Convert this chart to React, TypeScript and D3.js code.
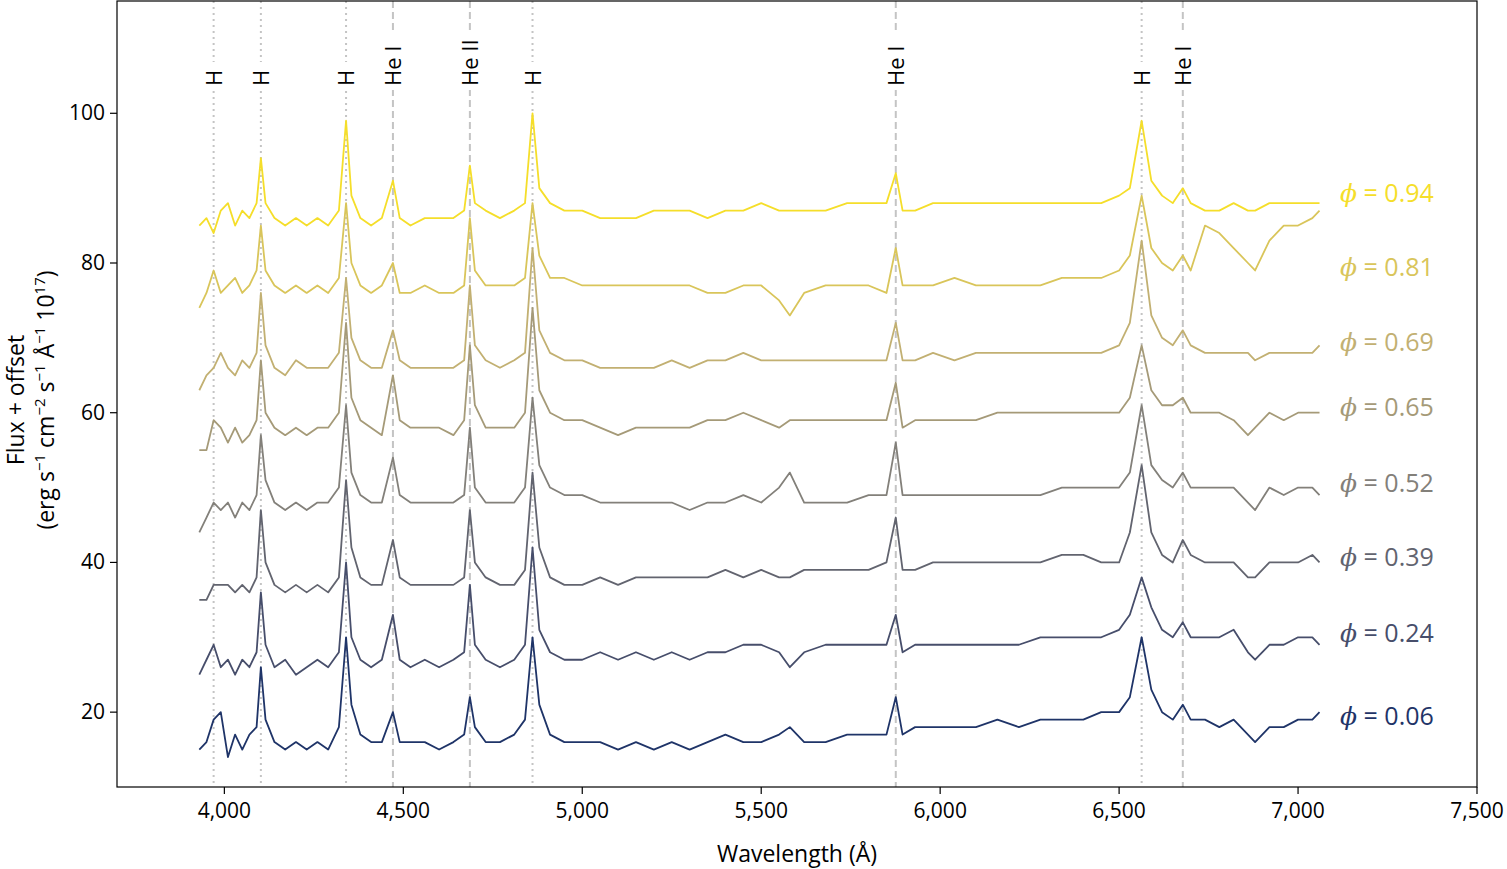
import * as d3 from "d3";

const wavelengths = [3930, 3950, 3970, 3990, 4010, 4030, 4050, 4070, 4090, 4102, 4115, 4140, 4170, 4200, 4230, 4260, 4290, 4320, 4340, 4355, 4380, 4410, 4440, 4471, 4490, 4520, 4560, 4600, 4640, 4670, 4686, 4700, 4730, 4770, 4810, 4840, 4861, 4880, 4910, 4950, 5000, 5050, 5100, 5150, 5200, 5250, 5300, 5350, 5400, 5450, 5500, 5550, 5580, 5620, 5680, 5740, 5800, 5850, 5876, 5895, 5930, 5980, 6040, 6100, 6160, 6220, 6280, 6340, 6400, 6450, 6500, 6530, 6563, 6590, 6620, 6650, 6678, 6700, 6740, 6780, 6820, 6860, 6880, 6920, 6960, 7000, 7040, 7060];

const phases = ["0.06", "0.24", "0.39", "0.52", "0.65", "0.69", "0.81", "0.94"];
const colors = ["#1f3468", "#474e6b", "#62646f", "#83807a", "#a59a78", "#c2b072", "#d9c55a", "#f5de2a"];
const labelY = [19.5, 30.6, 40.7, 50.6, 60.8, 69.4, 79.5, 89.3];

const flux006 = [15, 16, 19, 20, 14, 17, 15, 17, 18, 26, 19, 16, 15, 16, 15, 16, 15, 18, 30, 21, 17, 16, 16, 20, 16, 16, 16, 15, 16, 17, 22, 18, 16, 16, 17, 19, 30, 21, 17, 16, 16, 16, 15, 16, 15, 16, 15, 16, 17, 16, 16, 17, 18, 16, 16, 17, 17, 17, 22, 17, 18, 18, 18, 18, 19, 18, 19, 19, 19, 20, 20, 22, 30, 23, 20, 19, 21, 19, 19, 18, 19, 17, 16, 18, 18, 19, 19, 20];
const flux024 = [25, 27, 29, 26, 27, 25, 27, 26, 28, 36, 29, 26, 27, 25, 26, 27, 26, 28, 40, 30, 27, 26, 27, 33, 27, 26, 27, 26, 27, 28, 37, 29, 27, 26, 27, 29, 42, 31, 28, 27, 27, 28, 27, 28, 27, 28, 27, 28, 28, 29, 29, 28, 26, 28, 29, 29, 29, 29, 33, 28, 29, 29, 29, 29, 29, 29, 30, 30, 30, 30, 31, 33, 38, 34, 31, 30, 32, 30, 30, 30, 31, 28, 27, 29, 29, 30, 30, 29];
const flux039 = [35, 35, 37, 37, 37, 36, 37, 36, 38, 47, 40, 37, 36, 37, 36, 37, 36, 38, 51, 42, 38, 37, 37, 43, 38, 37, 37, 37, 37, 38, 47, 40, 38, 37, 37, 39, 52, 42, 38, 37, 37, 38, 37, 38, 38, 38, 38, 38, 39, 38, 39, 38, 38, 39, 39, 39, 39, 40, 46, 39, 39, 40, 40, 40, 40, 40, 40, 41, 41, 40, 40, 44, 53, 44, 41, 40, 43, 41, 40, 40, 40, 38, 38, 40, 40, 40, 41, 40];
const flux052 = [44, 46, 48, 47, 48, 46, 48, 47, 49, 57, 51, 48, 47, 48, 47, 48, 48, 50, 61, 52, 49, 48, 48, 54, 49, 48, 48, 48, 48, 49, 58, 50, 48, 48, 48, 50, 62, 53, 50, 49, 49, 48, 48, 48, 48, 48, 47, 48, 48, 49, 48, 50, 52, 48, 48, 48, 49, 49, 56, 49, 49, 49, 49, 49, 49, 49, 49, 50, 50, 50, 50, 52, 61, 53, 51, 50, 52, 50, 50, 50, 50, 48, 47, 50, 49, 50, 50, 49];
const flux065 = [55, 55, 59, 58, 56, 58, 56, 57, 59, 67, 60, 58, 57, 58, 57, 58, 58, 60, 72, 62, 59, 58, 57, 65, 59, 58, 58, 58, 57, 59, 69, 61, 58, 58, 58, 60, 74, 63, 60, 59, 59, 58, 57, 58, 58, 58, 58, 59, 59, 60, 59, 58, 59, 59, 59, 59, 59, 59, 64, 58, 59, 59, 59, 59, 60, 60, 60, 60, 60, 60, 60, 62, 69, 63, 61, 61, 62, 60, 60, 60, 59, 57, 58, 60, 59, 60, 60, 60];
const flux069 = [63, 65, 66, 68, 66, 65, 67, 66, 68, 76, 69, 66, 65, 67, 66, 66, 66, 68, 78, 70, 67, 66, 66, 71, 67, 66, 66, 66, 66, 67, 77, 69, 67, 66, 67, 68, 82, 71, 68, 67, 67, 66, 66, 66, 66, 67, 66, 67, 67, 68, 67, 67, 67, 67, 67, 67, 67, 67, 72, 67, 67, 68, 67, 68, 68, 68, 68, 68, 68, 68, 69, 72, 83, 73, 70, 69, 71, 69, 68, 68, 68, 68, 67, 68, 68, 68, 68, 69];
const flux081 = [74, 76, 79, 76, 77, 78, 76, 77, 79, 85, 79, 77, 76, 77, 76, 77, 76, 78, 88, 80, 77, 76, 77, 80, 76, 76, 77, 76, 76, 77, 86, 79, 77, 77, 77, 78, 88, 81, 78, 78, 77, 77, 77, 77, 77, 77, 77, 76, 76, 77, 77, 75, 73, 76, 77, 77, 77, 76, 82, 77, 77, 77, 78, 77, 77, 77, 77, 78, 78, 78, 79, 81, 89, 82, 80, 79, 81, 79, 85, 84, 82, 80, 79, 83, 85, 85, 86, 87];
const flux094 = [85, 86, 84, 87, 88, 85, 87, 86, 88, 94, 88, 86, 85, 86, 85, 86, 85, 87, 99, 89, 86, 85, 86, 91, 86, 85, 86, 86, 86, 87, 93, 88, 87, 86, 87, 88, 100, 90, 88, 87, 87, 86, 86, 86, 87, 87, 87, 86, 87, 87, 88, 87, 87, 87, 87, 88, 88, 88, 92, 87, 87, 88, 88, 88, 88, 88, 88, 88, 88, 88, 89, 90, 99, 91, 89, 88, 90, 88, 87, 87, 88, 87, 87, 88, 88, 88, 88, 88];
const allFlux = [flux006, flux024, flux039, flux052, flux065, flux069, flux081, flux094];

const lineNames = ["H", "H", "H", "He I", "He II", "H", "He I", "H", "He I"];
const lineWaves = [3970, 4102, 4340, 4471, 4686, 4861, 5876, 6563, 6678];

const xTicks = [4000, 4500, 5000, 5500, 6000, 6500, 7000, 7500];
const yTicks = [20, 40, 60, 80, 100];

const W = 1507, H = 869;
const m = { left: 117, right: 1477, top: 1, bottom: 787 };
const font = "'Open Sans', 'DejaVu Sans', sans-serif";

export default function App() {
  const x = d3.scaleLinear().domain([3700, 7500]).range([m.left, m.right]);
  const y = d3.scaleLinear().domain([10, 115]).range([m.bottom, m.top]);
  const line = d3.line<[number, number]>().x((d) => x(d[0])).y((d) => y(d[1]));
  const fmt = d3.format(",");

  return (
    <svg width={W} height={H} style={{ position: "absolute", left: 0, top: 0 }} fontFamily={font}>
      {lineWaves.map((w, i) => {
        const isH = lineNames[i] === "H";
        return (
          <g key={i}>
            <line x1={x(w)} x2={x(w)} y1={m.top} y2={m.bottom} stroke="#c4c4c4" strokeWidth={2}
              strokeDasharray={isH ? "2,4" : "7,4"} />
            <rect x={x(w) - 13} y={isH ? 62 : 30} width={26} height={isH ? 28 : 60} fill="#fff" />
            <text transform={`translate(${x(w) + 8},86) rotate(-90)`} fontSize={22} fill="#000">{lineNames[i]}</text>
          </g>
        );
      })}
      {allFlux.map((f, i) => (
        <path key={i} d={line(wavelengths.map((w, j) => [w, f[j]] as [number, number])) || ""}
          fill="none" stroke={colors[i]} strokeWidth={1.8} strokeLinejoin="round" />
      ))}
      {phases.map((p, i) => (
        <text key={p} x={1340} y={y(labelY[i]) + 9} fontSize={25} fill={colors[i]}>
          <tspan fontStyle="italic" fontFamily="'DejaVu Serif', serif">ϕ</tspan> = {p}
        </text>
      ))}
      <rect x={m.left} y={m.top} width={m.right - m.left} height={m.bottom - m.top} fill="none" stroke="#000" strokeWidth={1.2} />
      {xTicks.map((t) => (
        <g key={t}>
          <line x1={x(t)} x2={x(t)} y1={m.bottom} y2={m.bottom + 7} stroke="#000" strokeWidth={1.2} />
          <text x={x(t)} y={m.bottom + 31} fontSize={21} textAnchor="middle">{fmt(t)}</text>
        </g>
      ))}
      {yTicks.map((t) => (
        <g key={t}>
          <line x1={m.left - 7} x2={m.left} y1={y(t)} y2={y(t)} stroke="#000" strokeWidth={1.2} />
          <text x={m.left - 12} y={y(t) + 7} fontSize={21} textAnchor="end">{t}</text>
        </g>
      ))}
      <text x={(m.left + m.right) / 2} y={862} fontSize={23} textAnchor="middle">Wavelength (Å)</text>
      <g transform="translate(24,400) rotate(-90)">
        <text x={0} y={0} fontSize={23} textAnchor="middle">Flux + offset</text>
        <text x={0} y={30} fontSize={23} textAnchor="middle">
          (erg s<tspan dy={-9} fontSize={15}>−1</tspan><tspan dy={9}> cm</tspan>
          <tspan dy={-9} fontSize={15}>−2</tspan><tspan dy={9}> s</tspan>
          <tspan dy={-9} fontSize={15}>−1</tspan><tspan dy={9}> Å</tspan>
          <tspan dy={-9} fontSize={15}>−1</tspan><tspan dy={9}> 10</tspan>
          <tspan dy={-9} fontSize={15}>17</tspan><tspan dy={9}>)</tspan>
        </text>
      </g>
    </svg>
  );
}
